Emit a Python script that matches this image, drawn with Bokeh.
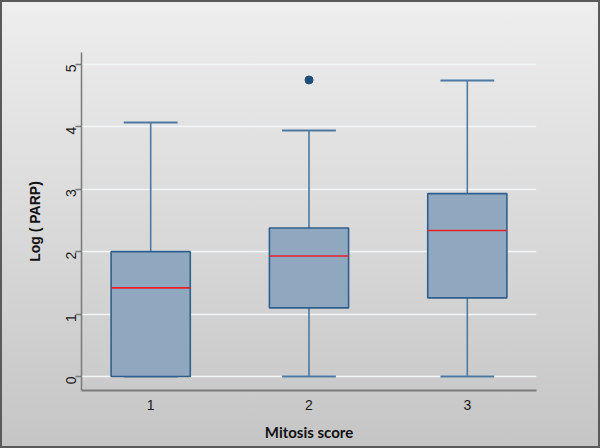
import numpy as np
from bokeh.plotting import figure
from bokeh.models import Range1d, FixedTicker, InlineStyleSheet
from bokeh.embed import file_html
from bokeh.resources import INLINE

# Data
groups = [1, 2, 3]
group_labels = ["1", "2", "3"]
lower = [0.0, 0.0, 0.0]
q1 = [0.0, 1.10, 1.26]
median = [1.42, 1.93, 2.34]
q3 = [2.0, 2.38, 2.93]
upper = [4.07, 3.94, 4.74]
outlier_x = [2]
outlier_y = [4.75]

box_w = 0.5
cap_w = 0.34

p = figure(width=600, height=448, output_backend="svg", toolbar_location=None,
           x_range=Range1d(0.563, 3.437), y_range=Range1d(-0.224, 5.19),
           min_border_left=81, min_border_right=64, min_border_top=52, min_border_bottom=58)

p.background_fill_alpha = 0
p.border_fill_alpha = 0
p.outline_line_color = None
p.stylesheets = [InlineStyleSheet(css=":host { background: linear-gradient(#eeeeee, #c5c5c5); box-shadow: inset 0 0 0 2px #5a5a5a; }")]

# grid
p.xgrid.grid_line_color = None
p.ygrid.grid_line_color = "#f2f5f8"
p.ygrid.grid_line_width = 1.6
p.ygrid.ticker = FixedTicker(ticks=[0, 1, 2, 3, 4, 5])

g = np.array(groups, dtype=float)
whisker_color = "#4d79a2"
# whiskers
p.segment(x0=g, y0=np.array(q3), x1=g, y1=np.array(upper), line_color=whisker_color, line_width=1.6)
p.segment(x0=g, y0=np.array(q1), x1=g, y1=np.array(lower), line_color=whisker_color, line_width=1.6)
# caps
p.segment(x0=g - cap_w / 2, y0=np.array(upper), x1=g + cap_w / 2, y1=np.array(upper), line_color=whisker_color, line_width=2)
p.segment(x0=g - cap_w / 2, y0=np.array(lower), x1=g + cap_w / 2, y1=np.array(lower), line_color=whisker_color, line_width=2)
# boxes
p.vbar(x=g, width=box_w, bottom=q1, top=q3, fill_color="#8fa8bf", line_color="#2f5f8c", line_width=1.6)
# medians
p.segment(x0=g - box_w / 2, y0=np.array(median), x1=g + box_w / 2, y1=np.array(median), line_color="#e8202a", line_width=1.6)
# outliers
p.scatter(x=outlier_x, y=outlier_y, size=8, fill_color="#1f4e79", line_color="#1f4e79")

# axes
p.xaxis.ticker = FixedTicker(ticks=groups)
p.xaxis.major_label_overrides = {gg: lab for gg, lab in zip(groups, group_labels)}
p.xaxis.major_tick_out = 0
p.xaxis.major_tick_in = 0
p.xaxis.minor_tick_out = 0
p.xaxis.minor_tick_in = 0
p.xaxis.axis_line_color = "#7a7a7a"
p.xaxis.axis_line_width = 2
p.xaxis.major_label_standoff = 9
p.xaxis.major_label_text_font = "Liberation Sans"
p.xaxis.major_label_text_font_size = "14px"
p.xaxis.major_label_text_color = "#1a1a1a"
p.xaxis.axis_label = "Mitosis score"
p.xaxis.axis_label_text_font = "Lato"
p.xaxis.axis_label_text_font_style = "bold"
p.xaxis.axis_label_text_font_size = "15px"
p.xaxis.axis_label_text_color = "#111111"
p.xaxis.axis_label_standoff = 10

p.yaxis.ticker = FixedTicker(ticks=[0, 1, 2, 3, 4, 5])
p.yaxis.major_label_orientation = np.pi / 2
p.yaxis.major_tick_out = 6
p.yaxis.major_tick_in = 0
p.yaxis.minor_tick_out = 0
p.yaxis.minor_tick_in = 0
p.yaxis.major_tick_line_color = "#7a7a7a"
p.yaxis.major_tick_line_width = 1.5
p.yaxis.axis_line_color = "#7a7a7a"
p.yaxis.axis_line_width = 1.5
p.yaxis.major_label_standoff = 4
p.yaxis.major_label_text_font = "Liberation Sans"
p.yaxis.major_label_text_font_size = "14px"
p.yaxis.major_label_text_color = "#1a1a1a"
p.yaxis.axis_label = "Log ( PARP)"
p.yaxis.axis_label_text_font = "Liberation Sans"
p.yaxis.axis_label_text_font_style = "bold"
p.yaxis.axis_label_text_font_size = "14px"
p.yaxis.axis_label_text_color = "#111111"
p.yaxis.axis_label_standoff = 16

open("out.html", "w").write(file_html(p, INLINE))
